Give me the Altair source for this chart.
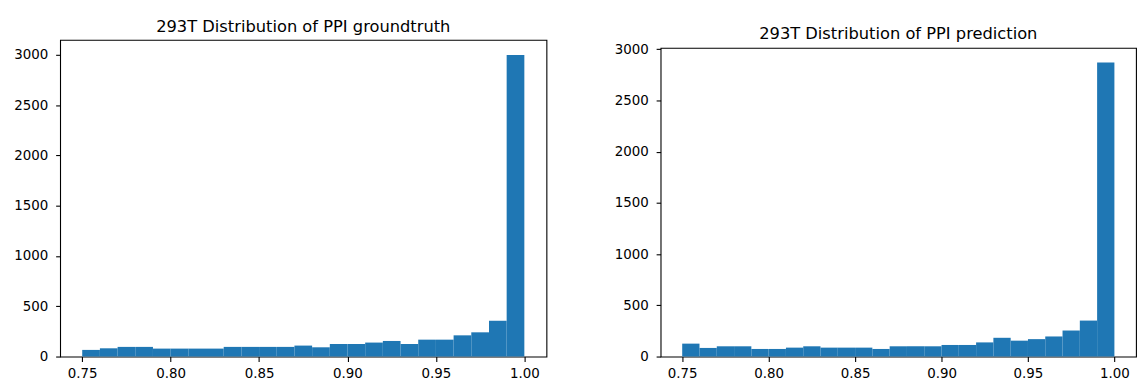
import altair as alt
import pandas as pd

# histogram bin edges (25 bins)
bin_edges = [0.75, 0.76, 0.77, 0.78, 0.79, 0.80, 0.81, 0.82, 0.83, 0.84,
             0.85, 0.86, 0.87, 0.88, 0.89, 0.90, 0.91, 0.92, 0.93, 0.94,
             0.95, 0.96, 0.97, 0.98, 0.99, 1.00]

gt_counts = [66, 82, 96, 96, 79, 79, 79, 79, 96, 96, 96, 96, 109, 92,
             125, 125, 139, 155, 125, 168, 168, 211, 241, 356, 3000]
pred_counts = [126, 84, 100, 100, 74, 74, 87, 100, 87, 87, 87, 74, 100, 100,
               100, 113, 113, 138, 183, 155, 170, 196, 254, 351, 2870]

x_ticks = [0.75, 0.80, 0.85, 0.90, 0.95, 1.00]
y_ticks = [0, 500, 1000, 1500, 2000, 2500, 3000]

gt_title = "293T Distribution of PPI groundtruth"
pred_title = "293T Distribution of PPI prediction"


def panel(counts, title, w, h, ymax, x_axis):
    df = pd.DataFrame({"start": bin_edges[:-1], "end": bin_edges[1:], "count": counts})
    return alt.Chart(df).mark_bar(color="#1f77b4", strokeWidth=0).encode(
        x=alt.X("start:Q",
                scale=alt.Scale(domain=[0.7375, 1.0125], nice=False, zero=False),
                axis=x_axis),
        x2="end:Q",
        y=alt.Y("count:Q",
                scale=alt.Scale(domain=[0, ymax], nice=False),
                axis=alt.Axis(values=y_ticks, format="d", title=None,
                              labelPadding=8, tickSize=4.5)),
        y2=alt.datum(0),
    ).properties(width=w, height=h, title=title)


# left panel reserves extra space below its x axis (minExtent) so that, with
# centred rows, the right panel sits 8px lower (as in the reference)
left_x_axis = alt.Axis(values=x_ticks, format=".2f", title=None, minExtent=32)
right_x_axis = alt.Axis(values=x_ticks, format=".2f", title=None)

left = panel(gt_counts, alt.TitleParams(text=gt_title, anchor="middle", offset=5),
             490, 319, 3150, left_x_axis)
right = panel(pred_counts, alt.TitleParams(text=pred_title, anchor="middle", offset=0),
              479, 311, 3013, right_x_axis)

chart = alt.hconcat(left, right, spacing=66, center=True).properties(
    padding={"left": 4.5, "top": 8.5, "right": 1, "bottom": 0}
).configure_view(
    stroke="black", strokeWidth=1.1
).configure_axis(
    grid=False, domain=False,
    tickColor="black", tickSize=5, tickWidth=1.1,
    labelPadding=5.5, labelFont="DejaVu Sans", labelFontSize=13.5,
    labelColor="black",
).configure_title(
    font="DejaVu Sans", fontSize=16.4, fontWeight="normal", color="black",
)

chart.save("out.html", embed_options={"renderer": "svg", "actions": False})
